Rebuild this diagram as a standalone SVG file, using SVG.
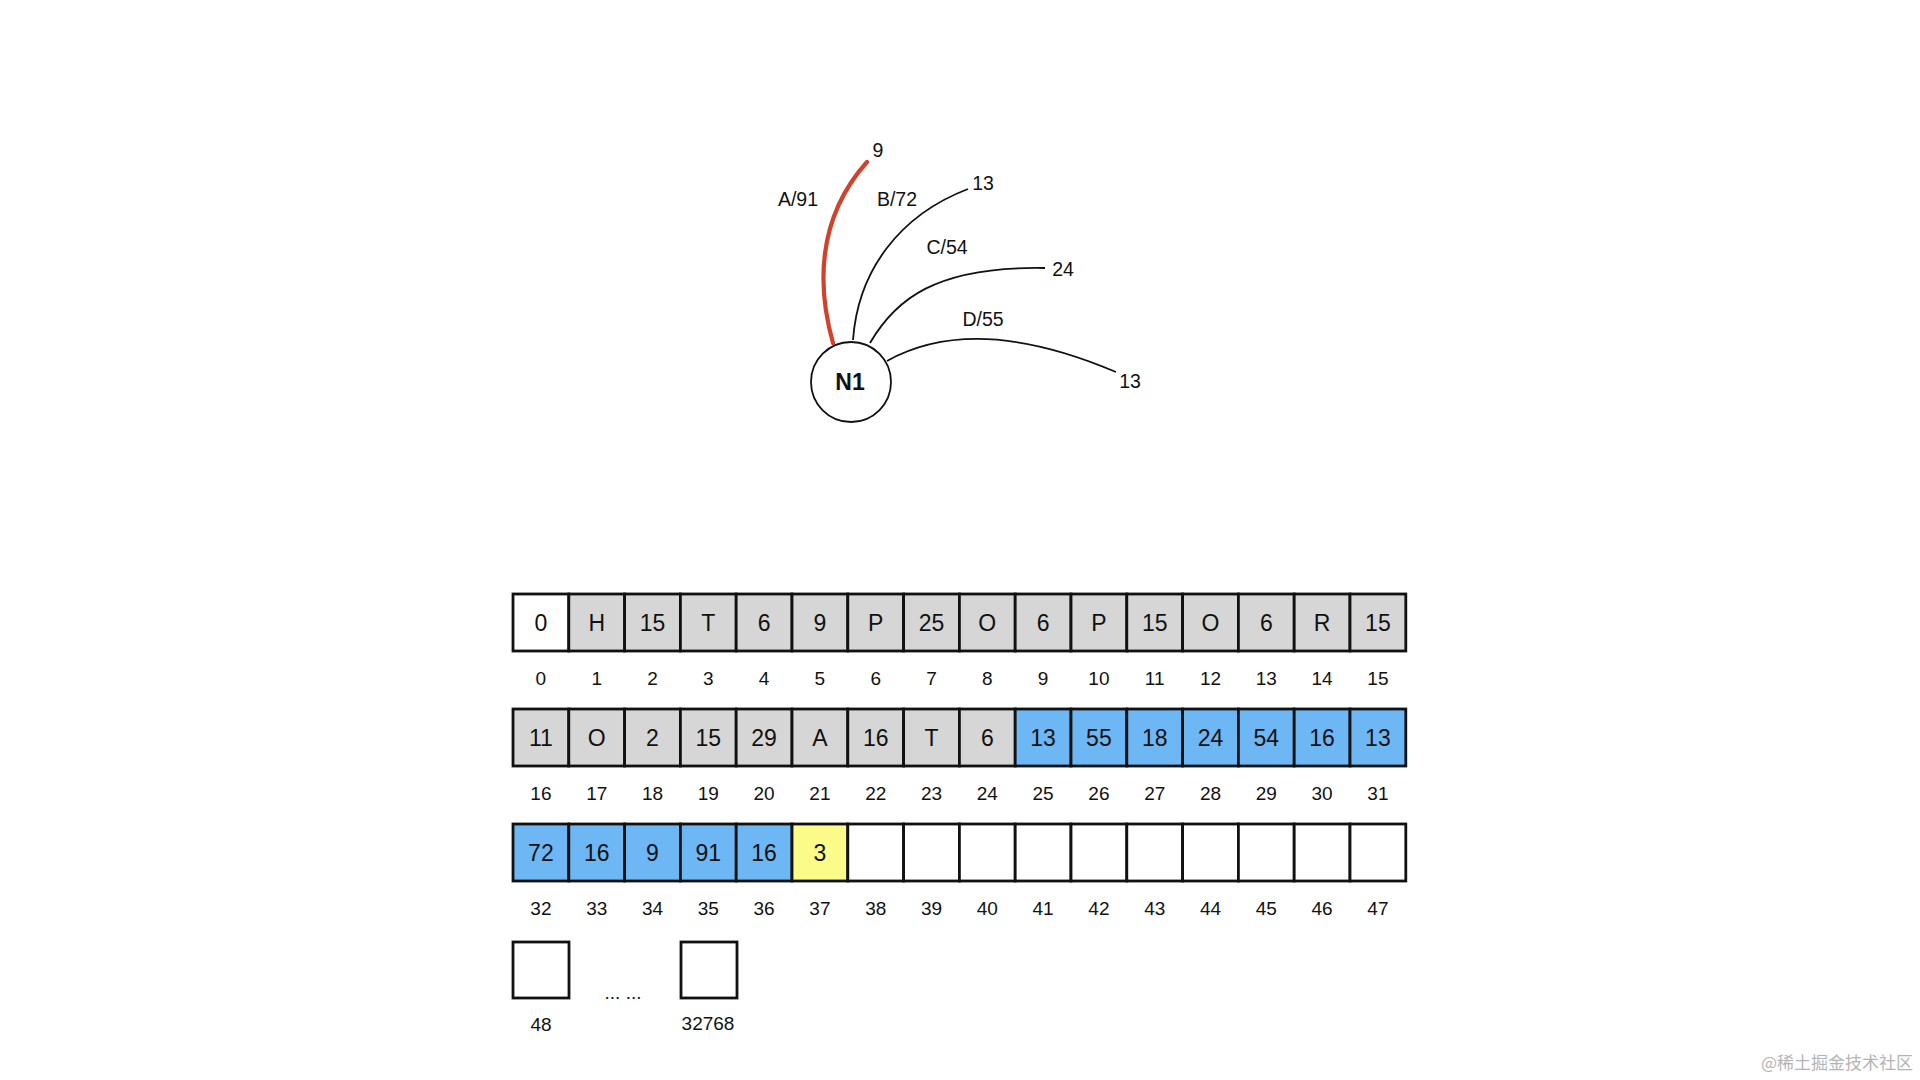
<svg xmlns="http://www.w3.org/2000/svg" width="1920" height="1080" viewBox="0 0 1920 1080">
<style>
text{font-family:"Liberation Sans",Arial,sans-serif;fill:#111}
.lbl{font-size:19.5px;text-anchor:middle}
.val{font-size:23px;text-anchor:middle}
.idx{font-size:19px;text-anchor:middle}
.c{stroke:#111;stroke-width:2.8}
.w{fill:#fff}.g{fill:#d6d6d6}.b{fill:#6db7f5}.y{fill:#fbfb8a}
.edge{fill:none;stroke:#111;stroke-width:1.8}
.hot{fill:none;stroke:#d2412c;stroke-width:4.2;stroke-linecap:round}
</style>
<rect width="1920" height="1080" fill="#fff"/>
<g id="connectors">
<path class="hot" d="M833,343 C818,290 815,220 867,162"/>
<path class="edge" d="M853,340 C858,270 900,215 968,189"/>
<path class="edge" d="M870,343 C895,300 935,266 1045,268"/>
<path class="edge" d="M887,361 Q975,312 1116,372"/>
</g>
<g id="edge-labels">
<text class="lbl" x="878" y="157">9</text>
<text class="lbl" x="798" y="206">A/91</text>
<text class="lbl" x="897" y="206">B/72</text>
<text class="lbl" x="983" y="190">13</text>
<text class="lbl" x="947" y="254">C/54</text>
<text class="lbl" x="1063" y="276">24</text>
<text class="lbl" x="983" y="326">D/55</text>
<text class="lbl" x="1130" y="388">13</text>
</g>
<g id="N1">
<circle cx="851" cy="382" r="40" fill="#fff" stroke="#111" stroke-width="1.8"/>
<text x="850" y="390" style="font-size:23px;font-weight:bold;text-anchor:middle">N1</text>
</g>
<g id="row1">
<rect class="c w" x="513" y="594" width="55.8" height="57"/><text class="val" x="540.9" y="631">0</text>
<rect class="c g" x="568.8" y="594" width="55.8" height="57"/><text class="val" x="596.7" y="631">H</text>
<rect class="c g" x="624.6" y="594" width="55.8" height="57"/><text class="val" x="652.5" y="631">15</text>
<rect class="c g" x="680.4" y="594" width="55.8" height="57"/><text class="val" x="708.3" y="631">T</text>
<rect class="c g" x="736.2" y="594" width="55.8" height="57"/><text class="val" x="764.1" y="631">6</text>
<rect class="c g" x="792" y="594" width="55.8" height="57"/><text class="val" x="819.9" y="631">9</text>
<rect class="c g" x="847.8" y="594" width="55.8" height="57"/><text class="val" x="875.7" y="631">P</text>
<rect class="c g" x="903.6" y="594" width="55.8" height="57"/><text class="val" x="931.5" y="631">25</text>
<rect class="c g" x="959.4" y="594" width="55.8" height="57"/><text class="val" x="987.3" y="631">O</text>
<rect class="c g" x="1015.2" y="594" width="55.8" height="57"/><text class="val" x="1043.1" y="631">6</text>
<rect class="c g" x="1071" y="594" width="55.8" height="57"/><text class="val" x="1098.9" y="631">P</text>
<rect class="c g" x="1126.8" y="594" width="55.8" height="57"/><text class="val" x="1154.7" y="631">15</text>
<rect class="c g" x="1182.6" y="594" width="55.8" height="57"/><text class="val" x="1210.5" y="631">O</text>
<rect class="c g" x="1238.4" y="594" width="55.8" height="57"/><text class="val" x="1266.3" y="631">6</text>
<rect class="c g" x="1294.2" y="594" width="55.8" height="57"/><text class="val" x="1322.1" y="631">R</text>
<rect class="c g" x="1350" y="594" width="55.8" height="57"/><text class="val" x="1377.9" y="631">15</text>
<text class="idx" x="540.9" y="685">0</text><text class="idx" x="596.7" y="685">1</text><text class="idx" x="652.5" y="685">2</text><text class="idx" x="708.3" y="685">3</text><text class="idx" x="764.1" y="685">4</text><text class="idx" x="819.9" y="685">5</text><text class="idx" x="875.7" y="685">6</text><text class="idx" x="931.5" y="685">7</text><text class="idx" x="987.3" y="685">8</text><text class="idx" x="1043.1" y="685">9</text><text class="idx" x="1098.9" y="685">10</text><text class="idx" x="1154.7" y="685">11</text><text class="idx" x="1210.5" y="685">12</text><text class="idx" x="1266.3" y="685">13</text><text class="idx" x="1322.1" y="685">14</text><text class="idx" x="1377.9" y="685">15</text>
</g>
<g id="row2">
<rect class="c g" x="513" y="709" width="55.8" height="57"/><text class="val" x="540.9" y="746">11</text>
<rect class="c g" x="568.8" y="709" width="55.8" height="57"/><text class="val" x="596.7" y="746">O</text>
<rect class="c g" x="624.6" y="709" width="55.8" height="57"/><text class="val" x="652.5" y="746">2</text>
<rect class="c g" x="680.4" y="709" width="55.8" height="57"/><text class="val" x="708.3" y="746">15</text>
<rect class="c g" x="736.2" y="709" width="55.8" height="57"/><text class="val" x="764.1" y="746">29</text>
<rect class="c g" x="792" y="709" width="55.8" height="57"/><text class="val" x="819.9" y="746">A</text>
<rect class="c g" x="847.8" y="709" width="55.8" height="57"/><text class="val" x="875.7" y="746">16</text>
<rect class="c g" x="903.6" y="709" width="55.8" height="57"/><text class="val" x="931.5" y="746">T</text>
<rect class="c g" x="959.4" y="709" width="55.8" height="57"/><text class="val" x="987.3" y="746">6</text>
<rect class="c b" x="1015.2" y="709" width="55.8" height="57"/><text class="val" x="1043.1" y="746">13</text>
<rect class="c b" x="1071" y="709" width="55.8" height="57"/><text class="val" x="1098.9" y="746">55</text>
<rect class="c b" x="1126.8" y="709" width="55.8" height="57"/><text class="val" x="1154.7" y="746">18</text>
<rect class="c b" x="1182.6" y="709" width="55.8" height="57"/><text class="val" x="1210.5" y="746">24</text>
<rect class="c b" x="1238.4" y="709" width="55.8" height="57"/><text class="val" x="1266.3" y="746">54</text>
<rect class="c b" x="1294.2" y="709" width="55.8" height="57"/><text class="val" x="1322.1" y="746">16</text>
<rect class="c b" x="1350" y="709" width="55.8" height="57"/><text class="val" x="1377.9" y="746">13</text>
<text class="idx" x="540.9" y="800">16</text><text class="idx" x="596.7" y="800">17</text><text class="idx" x="652.5" y="800">18</text><text class="idx" x="708.3" y="800">19</text><text class="idx" x="764.1" y="800">20</text><text class="idx" x="819.9" y="800">21</text><text class="idx" x="875.7" y="800">22</text><text class="idx" x="931.5" y="800">23</text><text class="idx" x="987.3" y="800">24</text><text class="idx" x="1043.1" y="800">25</text><text class="idx" x="1098.9" y="800">26</text><text class="idx" x="1154.7" y="800">27</text><text class="idx" x="1210.5" y="800">28</text><text class="idx" x="1266.3" y="800">29</text><text class="idx" x="1322.1" y="800">30</text><text class="idx" x="1377.9" y="800">31</text>
</g>
<g id="row3">
<rect class="c b" x="513" y="824" width="55.8" height="57"/><text class="val" x="540.9" y="861">72</text>
<rect class="c b" x="568.8" y="824" width="55.8" height="57"/><text class="val" x="596.7" y="861">16</text>
<rect class="c b" x="624.6" y="824" width="55.8" height="57"/><text class="val" x="652.5" y="861">9</text>
<rect class="c b" x="680.4" y="824" width="55.8" height="57"/><text class="val" x="708.3" y="861">91</text>
<rect class="c b" x="736.2" y="824" width="55.8" height="57"/><text class="val" x="764.1" y="861">16</text>
<rect class="c y" x="792" y="824" width="55.8" height="57"/><text class="val" x="819.9" y="861">3</text>
<rect class="c w" x="847.8" y="824" width="55.8" height="57"/>
<rect class="c w" x="903.6" y="824" width="55.8" height="57"/>
<rect class="c w" x="959.4" y="824" width="55.8" height="57"/>
<rect class="c w" x="1015.2" y="824" width="55.8" height="57"/>
<rect class="c w" x="1071" y="824" width="55.8" height="57"/>
<rect class="c w" x="1126.8" y="824" width="55.8" height="57"/>
<rect class="c w" x="1182.6" y="824" width="55.8" height="57"/>
<rect class="c w" x="1238.4" y="824" width="55.8" height="57"/>
<rect class="c w" x="1294.2" y="824" width="55.8" height="57"/>
<rect class="c w" x="1350" y="824" width="55.8" height="57"/>
<text class="idx" x="540.9" y="915">32</text><text class="idx" x="596.7" y="915">33</text><text class="idx" x="652.5" y="915">34</text><text class="idx" x="708.3" y="915">35</text><text class="idx" x="764.1" y="915">36</text><text class="idx" x="819.9" y="915">37</text><text class="idx" x="875.7" y="915">38</text><text class="idx" x="931.5" y="915">39</text><text class="idx" x="987.3" y="915">40</text><text class="idx" x="1043.1" y="915">41</text><text class="idx" x="1098.9" y="915">42</text><text class="idx" x="1154.7" y="915">43</text><text class="idx" x="1210.5" y="915">44</text><text class="idx" x="1266.3" y="915">45</text><text class="idx" x="1322.1" y="915">46</text><text class="idx" x="1377.9" y="915">47</text>
</g>
<g id="row4">
<rect class="c w" x="513" y="942" width="56" height="56"/>
<text class="idx" x="541" y="1031">48</text>
<text class="idx" x="623" y="999">... ...</text>
<rect class="c w" x="681" y="942" width="56" height="56"/>
<text class="idx" x="708" y="1030">32768</text>
</g>
<text x="1913" y="1069" style="font-family:'Noto Sans CJK SC',sans-serif;font-size:17px;fill:#b4b4b4;text-anchor:end">@稀土掘金技术社区</text>
</svg>
